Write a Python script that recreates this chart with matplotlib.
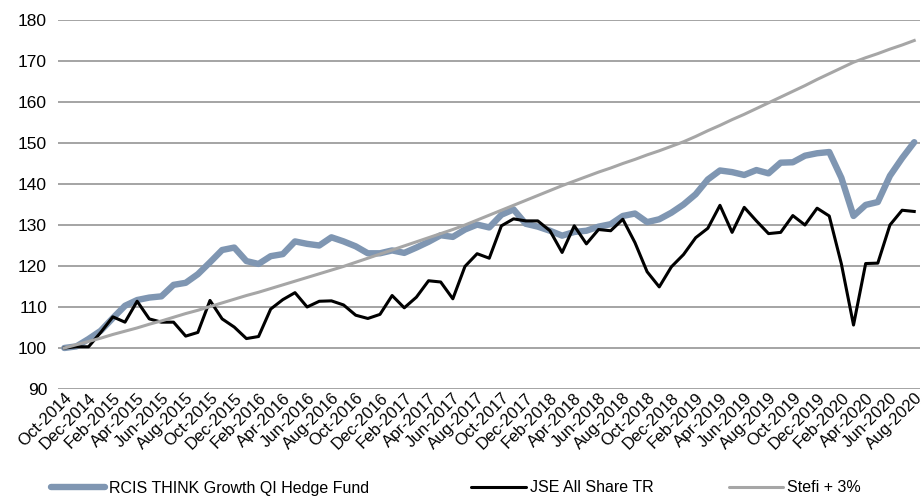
import numpy as np
import matplotlib.pyplot as plt
from matplotlib.lines import Line2D

plt.rcParams['font.family'] = ['Liberation Sans', 'DejaVu Sans']

# Monthly index values, Oct-2014 .. Aug-2020
mon_names = ['Jan', 'Feb', 'Mar', 'Apr', 'May', 'Jun',
             'Jul', 'Aug', 'Sep', 'Oct', 'Nov', 'Dec']
labels = []
for k in range(71):
    m = (9 + k) % 12
    y = 2014 + (9 + k) // 12
    labels.append(f"{mon_names[m]}-{y}")

fund = [100, 100.4, 102.2, 104.2, 107.3, 110.3, 111.7, 112.3, 112.6, 115.4,
        115.9, 118.0, 120.9, 123.9, 124.5, 121.2, 120.5, 122.4, 122.9, 126.0,
        125.4, 125.0, 127.0, 126.0, 124.8, 123.1, 123.1, 123.8, 123.2, 124.5,
        125.9, 127.5, 127.1, 128.9, 130.1, 129.4, 132.5, 133.8, 130.3, 129.6,
        128.6, 127.4, 128.3, 128.6, 129.6, 130.2, 132.2, 132.8, 130.7, 131.4,
        133.0, 135.0, 137.5, 141.1, 143.3, 142.9, 142.2, 143.4, 142.6, 145.2,
        145.3, 146.9, 147.5, 147.8, 141.5, 132.2, 134.9, 135.6, 142.0, 146.3,
        150.2]

jse = [100, 100.3, 100.3, 103.8, 107.6, 106.3, 111.4, 107.1, 106.3, 106.3,
       102.9, 103.8, 111.6, 107.1, 105.1, 102.3, 102.8, 109.5, 111.8, 113.5,
       110.0, 111.4, 111.5, 110.5, 108.0, 107.2, 108.2, 112.8, 109.8, 112.4,
       116.4, 116.1, 112.0, 119.9, 123.0, 121.9, 129.8, 131.5, 131.0, 131.0,
       128.6, 123.3, 129.8, 125.4, 128.9, 128.6, 131.4, 125.7, 118.6, 114.9,
       119.8, 122.8, 126.9, 129.2, 134.8, 128.2, 134.3, 131.0, 127.9, 128.2,
       132.3, 130.0, 134.1, 132.2, 120.5, 105.6, 120.6, 120.7, 130.0, 133.6,
       133.3]

stefi = [100, 100.8, 101.6, 102.4, 103.3, 104.1, 104.9, 105.8, 106.6, 107.5,
         108.4, 109.2, 110.1, 111.0, 111.9, 112.8, 113.6, 114.5, 115.4, 116.3,
         117.2, 118.1, 119.0, 119.9, 120.9, 121.9, 122.9, 123.9, 124.9, 125.9,
         126.9, 127.9, 128.9, 130.0, 131.2, 132.4, 133.6, 134.8, 136.0, 137.2,
         138.4, 139.6, 140.7, 141.8, 142.9, 143.9, 145.0, 146.0, 147.1, 148.1,
         149.2, 150.3, 151.6, 153.0, 154.3, 155.7, 157.0, 158.4, 159.8, 161.2,
         162.6, 164.0, 165.5, 166.9, 168.3, 169.7, 170.8, 171.8, 172.9, 173.9,
         175.0]

series_names = ['RCIS THINK Growth QI Hedge Fund', 'JSE All Share TR', 'Stefi + 3%']

x = np.arange(len(fund))

fig = plt.figure(figsize=(9.24, 5), dpi=100)
ax = fig.add_axes([0.063, 0.222, 0.933, 0.738])

l1, = ax.plot(x, fund, color='#7f96b2', lw=4.6, solid_joinstyle='round',
              solid_capstyle='round')
l2, = ax.plot(x, jse, color='black', lw=2.2)
l3, = ax.plot(x, stefi, color='#a6a6a6', lw=2.2)

ax.set_ylim(90, 180)
ax.set_xlim(-0.5, 70.5)
ax.set_yticks(np.arange(90, 181, 10))
ax.yaxis.grid(True, color='#8c8c8c', lw=1.1)
ax.set_axisbelow(True)
for s in ax.spines.values():
    s.set_visible(False)
ax.tick_params(axis='y', length=0, labelsize=12.5, pad=8)
ax.tick_params(axis='x', length=0, labelsize=12, pad=1)
ax.set_xticks(x[::2])
ax.set_xticklabels(labels[::2], rotation=45, ha='right',
                   rotation_mode='anchor')

# legend entries placed one by one, like the original
lines = [l1, l2, l3]
lefts = [0.055, 0.510, 0.789]
for ln, nm, xl in zip(lines, series_names, lefts):
    h = Line2D([], [], color=ln.get_color(), lw=ln.get_linewidth(),
               solid_capstyle='round')
    fig.legend([h], [nm], loc='center left', bbox_to_anchor=(xl, 0.024),
               frameon=False, fontsize=11.5, handlelength=3.4,
               handletextpad=0.25, borderaxespad=0, borderpad=0)

fig.savefig('out.png', dpi=100)
